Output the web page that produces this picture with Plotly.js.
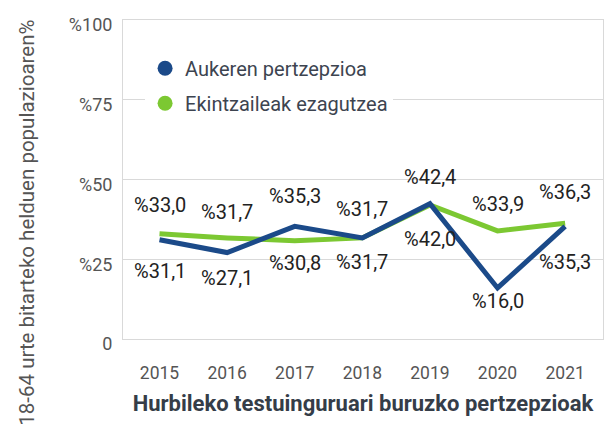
<!DOCTYPE html>
<html>
<head>
<meta charset="utf-8">
<script src="https://cdn.plot.ly/plotly-3.0.1.min.js"></script>
<style>html,body{margin:0;padding:0;background:#fff;}#chart{width:606px;height:435px;}</style>
</head>
<body>
<div id="chart"></div>
<script>
// ---- data ----
const years = ['2015', '2016', '2017', '2018', '2019', '2020', '2021'];
const aukeren = [31.1, 27.1, 35.3, 31.7, 42.4, 16.0, 35.3];
const ekintzaileak = [33.0, 31.7, 30.8, 31.7, 42.0, 33.9, 36.3];
const seriesNames = ['Aukeren pertzepzioa', 'Ekintzaileak ezagutzea'];
const yTickVals = [0, 25, 50, 75, 100];
const yTickText = ['0', '%25', '%50', '%75', '%100'];

// ---- style ----
const blue = '#1b4a89';
const green = '#7cc832';
const shiftBlue = [-31, -25, 30, -24, 27, -13, -36];   // label offsets (px)
const shiftGreen = [29, 26, -22, 29, -34, 27, 31];
const fontFam = 'Roboto, "Open Sans", sans-serif';

function fmt(v) { return '%' + v.toFixed(1).replace('.', ','); }

const traces = [
  {x: years, y: ekintzaileak, type: 'scatter', mode: 'lines', line: {color: green, width: 5}, showlegend: false, hoverinfo: 'skip'},
  {x: years, y: aukeren, type: 'scatter', mode: 'lines', line: {color: blue, width: 5}, showlegend: false, hoverinfo: 'skip'},
  {x: [null], y: [null], type: 'scatter', mode: 'markers', name: seriesNames[0], legendgroup: 'a', marker: {color: blue, size: 15}},
  {x: [null], y: [null], type: 'scatter', mode: 'markers', name: seriesNames[1], legendgroup: 'b', marker: {color: green, size: 15}}
];

const annotations = [];
years.forEach((yr, i) => {
  annotations.push({x: i, y: aukeren[i], xref: 'x', yref: 'y', text: fmt(aukeren[i]), showarrow: false, yshift: shiftBlue[i], font: {family: fontFam, size: 20, color: '#222'}});
  annotations.push({x: i, y: ekintzaileak[i], xref: 'x', yref: 'y', text: fmt(ekintzaileak[i]), showarrow: false, yshift: shiftGreen[i], font: {family: fontFam, size: 20, color: '#222'}});
});
annotations.push({
  xref: 'paper', yref: 'paper', x: -0.231, y: 0.365, textangle: -90, showarrow: false,
  text: '18-64 urte bitarteko helduen populazioaren%', font: {family: fontFam, size: 20.5, color: '#555'}
});

const layout = {
  width: 606, height: 435,
  margin: {l: 123, r: 3, t: 20, b: 96},
  paper_bgcolor: '#fff', plot_bgcolor: '#fff',
  font: {family: fontFam},
  xaxis: {
    type: 'category', range: [-0.54, 6.56],
    showgrid: false, showline: true, mirror: true, linecolor: '#d9d9d9', linewidth: 1,
    ticks: 'outside', ticklen: 18, tickcolor: 'rgba(0,0,0,0)',
    tickfont: {family: fontFam, size: 17.5, color: '#555'},
    title: {text: '<b>Hurbileko testuinguruari buruzko pertzepzioak</b>', font: {family: fontFam, size: 22, color: '#353d48'}, standoff: 13}
  },
  yaxis: {
    range: [0, 100], tickvals: yTickVals, ticktext: yTickText,
    showgrid: true, gridcolor: '#d9d9d9', gridwidth: 1, zeroline: false,
    showline: true, mirror: true, linecolor: '#d9d9d9', linewidth: 1,
    ticks: 'outside', ticklen: 6, tickcolor: 'rgba(0,0,0,0)', ticklabelshift: 5,
    tickfont: {family: fontFam, size: 18, color: '#555'}
  },
  legend: {
    x: 0.046, y: 0.91, xanchor: 'left', yanchor: 'top',
    bgcolor: '#fff', traceorder: 'grouped', tracegroupgap: 6,
    font: {family: fontFam, size: 20, color: '#3d4450'}
  },
  annotations: annotations,
  showlegend: true
};

Plotly.newPlot('chart', traces, layout, {staticPlot: true});
</script>
</body>
</html>
